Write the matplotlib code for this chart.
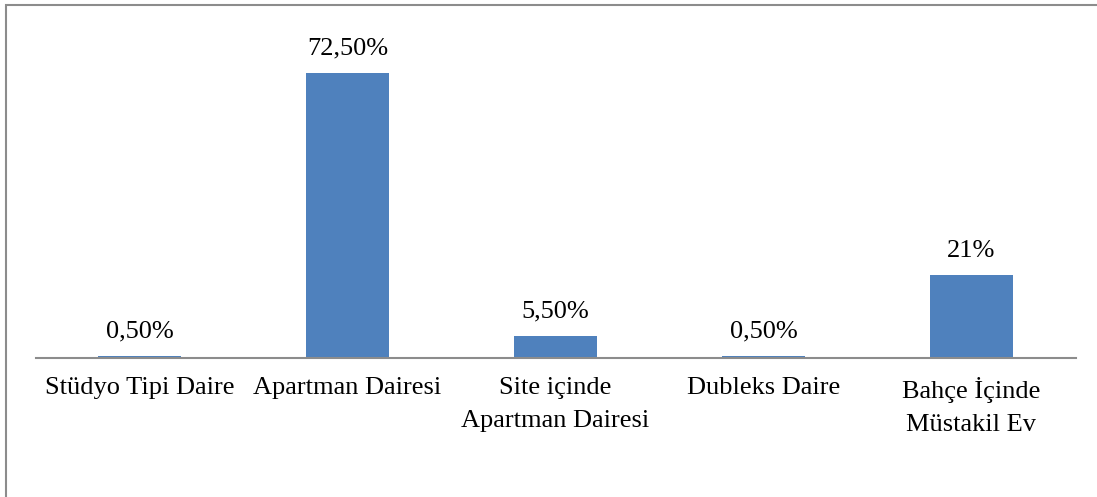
import matplotlib.pyplot as plt
from matplotlib.patches import Rectangle

categories = ["Stüdyo Tipi Daire", "Apartman Dairesi", "Site içinde\nApartman Dairesi",
              "Dubleks Daire", "Bahçe İçinde\nMüstakil Ev"]
values = [0.5, 72.5, 5.5, 0.5, 21.0]
value_labels = ["0,50%", "72,50%", "5,50%", "0,50%", "21%"]

plt.rcParams['font.family'] = ['Liberation Serif', 'DejaVu Serif']

W, H = 1097, 497
fig = plt.figure(figsize=(W / 100, H / 100), dpi=100)

# outer chart border (right and bottom are cut off in the reference)
fig.patches.append(Rectangle((6 / W, -0.1), 1.2, (H - 5) / H + 0.1, transform=fig.transFigure,
                             fill=False, edgecolor="#8c8c8c", linewidth=1.5))

ax_left, ax_right = 35.5, 1075.5
ax_bottom, ax_top = 358, 20
ax = fig.add_axes([ax_left / W, (H - ax_bottom) / H, (ax_right - ax_left) / W, (ax_bottom - ax_top) / H])

x = list(range(len(categories)))
ax.bar(x, values, width=0.4, color="#4F81BD", zorder=2)
ax.set_xlim(-0.5, len(categories) - 0.5)
ax.set_ylim(0, 72.5 * (ax_bottom - ax_top) / 285)

for xi, v, lab in zip(x, values, value_labels):
    ax.annotate(lab, (xi, v), xytext=(0, 10), textcoords="offset points",
                ha="center", va="bottom", fontsize=19, color="#000000")

ax.set_xticks(x)
ax.set_xticklabels(categories, fontsize=19, linespacing=1.65, va="top")
ax.tick_params(axis="x", length=0, pad=14)
ax.set_yticks([])
for s in ["left", "right", "top"]:
    ax.spines[s].set_visible(False)
ax.spines["bottom"].set_color("#8c8c8c")
ax.spines["bottom"].set_linewidth(1.5)
ax.patch.set_visible(False)

fig.savefig("out.png", dpi=100)
